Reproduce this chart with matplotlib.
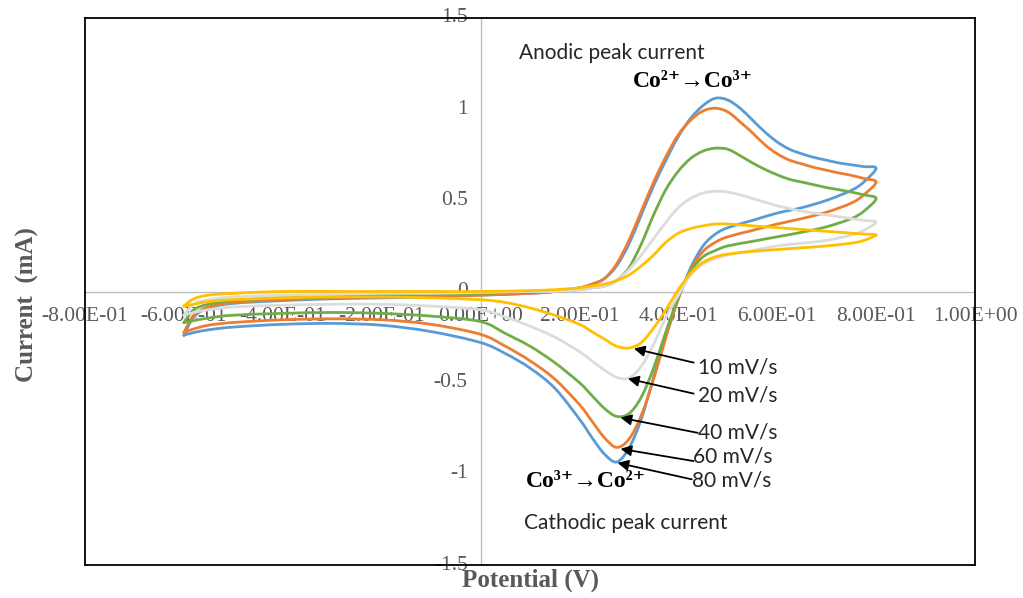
import matplotlib
matplotlib.use("Agg")
import matplotlib.pyplot as plt
from matplotlib.path import Path
from matplotlib.patches import PathPatch

# potential grids (V) for the anodic (forward) and cathodic (reverse) sweeps
E_forward = [-0.6, -0.58, -0.55, -0.5, -0.4, -0.3, -0.2, -0.1, 0.0, 0.1, 0.15,
             0.2, 0.225, 0.25, 0.275, 0.3, 0.325, 0.35, 0.375, 0.4, 0.425,
             0.45, 0.475, 0.5, 0.525, 0.55, 0.575, 0.6, 0.625, 0.65, 0.675,
             0.7, 0.725, 0.75, 0.775, 0.8]
E_reverse = [0.8, 0.775, 0.75, 0.7, 0.65, 0.6, 0.55, 0.5, 0.475, 0.45, 0.425,
             0.4, 0.375, 0.35, 0.325, 0.3, 0.275, 0.25, 0.225, 0.2, 0.15, 0.1,
             0.05, 0.0, -0.1, -0.2, -0.3, -0.4, -0.5, -0.55, -0.58, -0.6]

# current (mA)
I_fwd_80 = [-0.24, -0.14, -0.09, -0.065, -0.05, -0.04, -0.035, -0.03, -0.02, -0.01, 0.0,
            0.02, 0.04, 0.07, 0.14, 0.26, 0.42, 0.58, 0.72, 0.85, 0.95,
            1.02, 1.06, 1.05, 1.005, 0.94, 0.875, 0.82, 0.78, 0.755, 0.735,
            0.72, 0.705, 0.695, 0.685, 0.676]
I_rev_80 = [0.676, 0.60, 0.555, 0.50, 0.46, 0.43, 0.39, 0.35, 0.315, 0.25, 0.13,
            -0.04, -0.24, -0.47, -0.70, -0.86, -0.935, -0.89, -0.80, -0.70, -0.53, -0.42,
            -0.34, -0.28, -0.22, -0.185, -0.175, -0.18, -0.195, -0.21, -0.225, -0.24]

I_fwd_60 = [-0.225, -0.13, -0.085, -0.06, -0.045, -0.035, -0.03, -0.025, -0.02, -0.01, 0.0,
            0.02, 0.04, 0.07, 0.15, 0.28, 0.44, 0.60, 0.74, 0.86, 0.94,
            0.99, 1.005, 0.985, 0.93, 0.87, 0.805, 0.755, 0.72, 0.70, 0.68,
            0.665, 0.65, 0.637, 0.62, 0.60]
I_rev_60 = [0.60, 0.53, 0.485, 0.435, 0.40, 0.37, 0.335, 0.30, 0.27, 0.22, 0.12,
            -0.04, -0.25, -0.48, -0.68, -0.81, -0.855, -0.80, -0.71, -0.62, -0.48, -0.38,
            -0.30, -0.235, -0.18, -0.155, -0.15, -0.155, -0.17, -0.185, -0.205, -0.225]

I_fwd_40 = [-0.17, -0.10, -0.07, -0.05, -0.035, -0.03, -0.02, -0.015, -0.01, -0.005, 0.0,
            0.01, 0.02, 0.03, 0.06, 0.13, 0.26, 0.42, 0.56, 0.66, 0.73,
            0.77, 0.786, 0.78, 0.745, 0.705, 0.67, 0.64, 0.615, 0.60, 0.585,
            0.57, 0.558, 0.545, 0.53, 0.51]
I_rev_40 = [0.51, 0.44, 0.40, 0.355, 0.325, 0.30, 0.275, 0.25, 0.225, 0.19, 0.11,
            -0.03, -0.22, -0.42, -0.58, -0.67, -0.685, -0.64, -0.57, -0.50, -0.39, -0.30,
            -0.23, -0.165, -0.135, -0.12, -0.115, -0.12, -0.13, -0.145, -0.16, -0.17]

I_fwd_20 = [-0.13, -0.07, -0.045, -0.03, -0.02, -0.015, -0.01, -0.01, -0.005, 0.0, 0.0,
            0.01, 0.02, 0.03, 0.06, 0.12, 0.20, 0.29, 0.38, 0.46, 0.51,
            0.54, 0.55, 0.545, 0.53, 0.51, 0.49, 0.47, 0.455, 0.44, 0.43,
            0.42, 0.41, 0.40, 0.39, 0.38]
I_rev_20 = [0.38, 0.335, 0.31, 0.28, 0.265, 0.25, 0.225, 0.20, 0.18, 0.15, 0.09,
            -0.02, -0.14, -0.29, -0.41, -0.475, -0.47, -0.43, -0.38, -0.33, -0.25, -0.19,
            -0.14, -0.10, -0.08, -0.07, -0.07, -0.075, -0.085, -0.10, -0.115, -0.13]

I_fwd_10 = [-0.08, -0.04, -0.02, -0.01, 0.0, 0.0, 0.0, 0.0, 0.0, 0.005, 0.01,
            0.02, 0.03, 0.04, 0.06, 0.09, 0.14, 0.20, 0.27, 0.32, 0.345,
            0.36, 0.37, 0.37, 0.365, 0.36, 0.355, 0.35, 0.345, 0.34, 0.335,
            0.33, 0.325, 0.32, 0.315, 0.31]
I_rev_10 = [0.31, 0.28, 0.265, 0.25, 0.24, 0.23, 0.22, 0.205, 0.19, 0.16, 0.10,
            0.01, -0.10, -0.20, -0.28, -0.31, -0.30, -0.26, -0.22, -0.18, -0.13, -0.09,
            -0.06, -0.045, -0.035, -0.03, -0.03, -0.035, -0.045, -0.055, -0.07, -0.08]

scan_rates = ["80 mV/s", "60 mV/s", "40 mV/s", "20 mV/s", "10 mV/s"]
colors = ["#5B9BD5", "#ED7D31", "#70AD47", "#DCDCDC", "#FFC000"]
forward = [I_fwd_80, I_fwd_60, I_fwd_40, I_fwd_20, I_fwd_10]
reverse = [I_rev_80, I_rev_60, I_rev_40, I_rev_20, I_rev_10]

x_ticks = [-0.8, -0.6, -0.4, -0.2, 0.0, 0.2, 0.4, 0.6, 0.8, 1.0]
x_labels = ["-8.00E-01", "-6.00E-01", "-4.00E-01", "-2.00E-01", "0.00E+00",
            "2.00E-01", "4.00E-01", "6.00E-01", "8.00E-01", "1.00E+00"]
y_ticks = [1.5, 1.0, 0.5, 0.0, -0.5, -1.0, -1.5]
y_labels = ["1.5", "1", "0.5", "0", "-0.5", "-1", "-1.5"]

serif = ["Liberation Serif", "DejaVu Serif"]
sans = "Lato"
grey_txt = "#595959"


def smoothed(xs, ys):
    # Excel-style smoothed line: bezier segments through the read points
    pts = list(zip(xs, ys))
    n = len(pts)
    verts = [pts[0]]
    codes = [Path.MOVETO]
    for i in range(n - 1):
        p0 = pts[i - 1] if i > 0 else pts[i]
        p1 = pts[i]
        p2 = pts[i + 1]
        p3 = pts[i + 2] if i + 2 < n else pts[i + 1]
        c1 = (p1[0] + (p2[0] - p0[0]) / 6, p1[1] + (p2[1] - p0[1]) / 6)
        c2 = (p2[0] - (p3[0] - p1[0]) / 6, p2[1] - (p3[1] - p1[1]) / 6)
        verts += [c1, c2, p2]
        codes += [Path.CURVE4] * 3
    return Path(verts, codes)


fig = plt.figure(figsize=(10.23, 5.98), dpi=100)
ax = fig.add_axes([85 / 1023, 33 / 598, 890 / 1023, 547 / 598])
ax.set_xlim(-0.8, 1.0)
ax.set_ylim(-1.5, 1.5)
ax.set_xticks([])
ax.set_yticks([])
for s in ax.spines.values():
    s.set_color("black")
    s.set_linewidth(1.3)

ax.axhline(0, color="#BFBFBF", lw=1.0, zorder=1)
ax.axvline(0, color="#BFBFBF", lw=1.0, zorder=1)

for i in range(len(scan_rates)):
    # forward sweep ends at 0.8 V where the reverse sweep starts
    path = smoothed(E_forward + E_reverse[1:], forward[i] + reverse[i][1:])
    ax.add_patch(PathPatch(path, facecolor="none", edgecolor=colors[i], lw=2.0,
                           capstyle="round", joinstyle="round", zorder=3))

for xv, lab in zip(x_ticks, x_labels):
    ax.text(xv, -0.137, lab, ha="center", va="center", fontsize=15.5,
            family=serif, color=grey_txt, zorder=2)
for yv, lab in zip(y_ticks, y_labels):
    ax.text(-0.026, yv, lab, ha="right", va="center", fontsize=15.5,
            family=serif, color=grey_txt, zorder=2)

fig.text(27 / 1023, 1 - 305 / 598, "Current  (mA)", rotation=90, ha="center",
         va="center", fontsize=18, fontweight="bold", family=serif, color=grey_txt)
fig.text(530 / 1023, 1 - 580 / 598, "Potential (V)", ha="center", va="center",
         fontsize=18, fontweight="bold", family=serif, color=grey_txt)

ax.text(0.077, 1.31, "Anodic peak current", ha="left", va="center",
        fontsize=15, family=sans, color="#262626")
ax.text(0.308, 1.154, "Co²⁺→Co³⁺", ha="left", va="center", fontsize=17,
        fontweight="bold", family=serif, color="black")
ax.text(0.091, -1.044, "Co³⁺→Co²⁺", ha="left", va="center", fontsize=17,
        fontweight="bold", family=serif, color="black")
ax.text(0.087, -1.27, "Cathodic peak current", ha="left", va="center",
        fontsize=15, family=sans, color="#262626")

# arrows pointing at the cathodic peaks
heads = [(0.277, -0.94), (0.283, -0.863), (0.283, -0.692), (0.298, -0.478), (0.31, -0.313)]
tails = [(0.427, -1.03), (0.431, -0.93), (0.439, -0.775), (0.431, -0.56), (0.431, -0.39)]
label_y = [-1.038, -0.907, -0.775, -0.571, -0.418]
label_x = [0.427, 0.429, 0.439, 0.439, 0.439]
for i in range(len(scan_rates)):
    ax.annotate("", xy=heads[i], xytext=tails[i],
                arrowprops=dict(arrowstyle="-|>", color="black", lw=1.3,
                                mutation_scale=16, shrinkA=0, shrinkB=0), zorder=5)
    ax.text(label_x[i], label_y[i], scan_rates[i], ha="left", va="center",
            fontsize=15, family=sans, color="#262626", zorder=6)

fig.savefig("out.png", dpi=100)
